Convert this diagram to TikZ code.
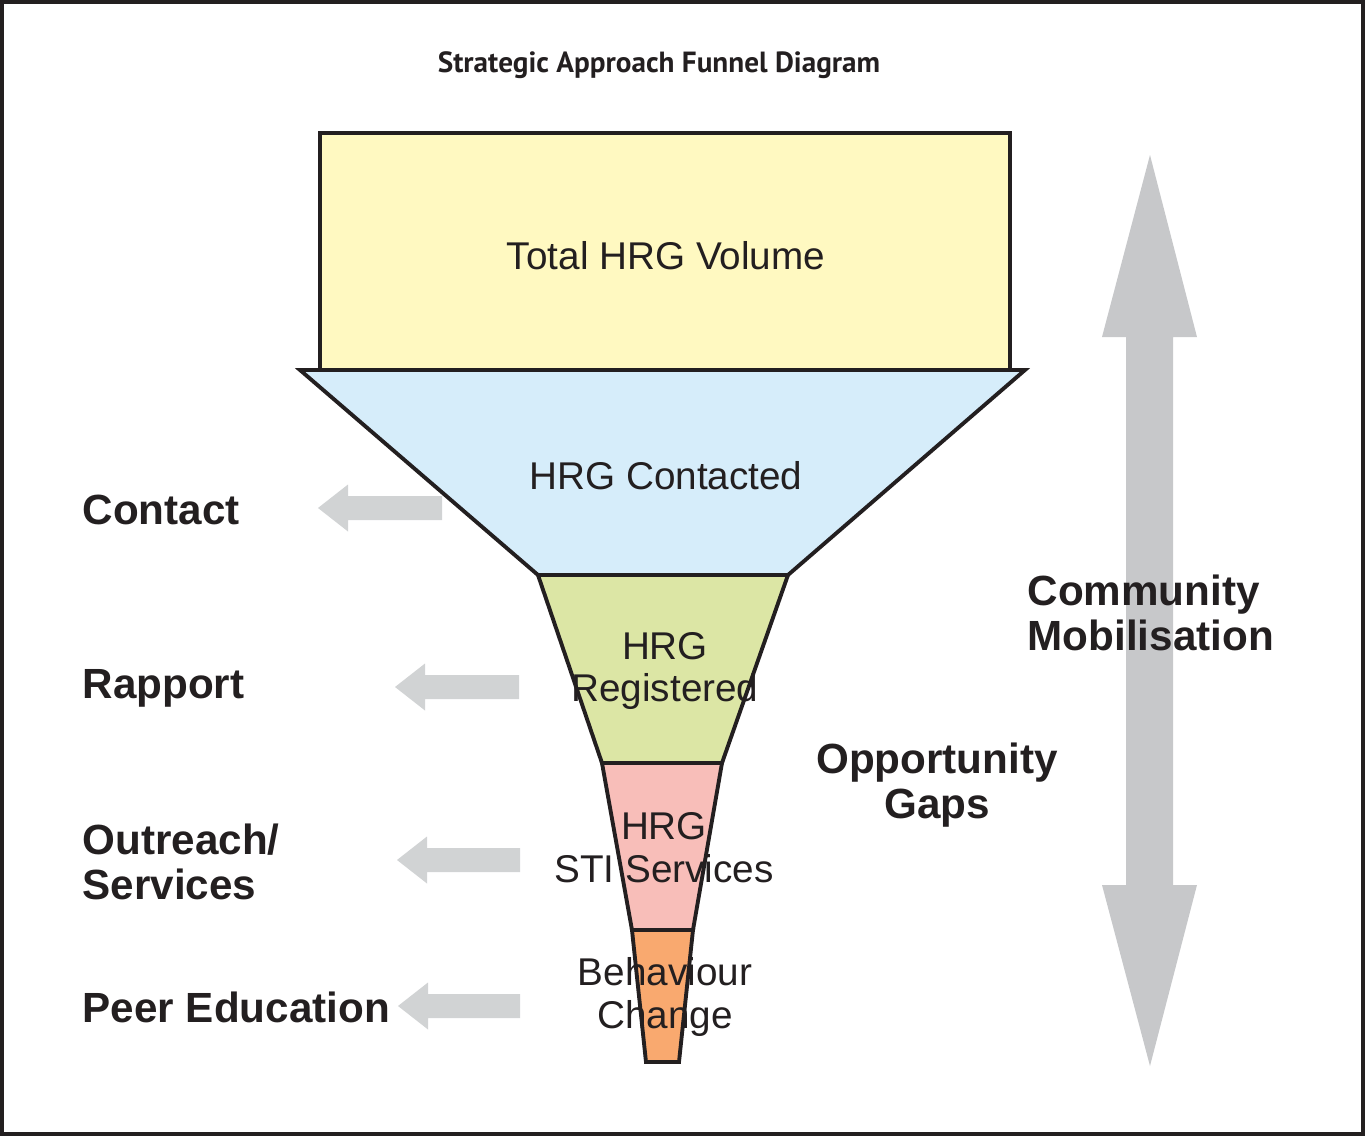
\documentclass[tikz,border=0pt]{standalone}
\usepackage{fontspec}
\setmainfont{Liberation Sans}
\newfontfamily\titlefont{PT Sans}

\definecolor{inkline}{HTML}{231F20}
\definecolor{volumefill}{HTML}{FFF9C1}
\definecolor{contactfill}{HTML}{D6EDFA}
\definecolor{registerfill}{HTML}{DCE6A5}
\definecolor{servicefill}{HTML}{F8BEB9}
\definecolor{changefill}{HTML}{F9A96F}
\definecolor{pointergray}{HTML}{D1D3D4}
\definecolor{mobilgray}{HTML}{C7C8CA}

\begin{document}
\begin{tikzpicture}[x=0.01cm, y=-0.01cm,
    stage/.style={draw=inkline, line width=1.1pt, line join=miter},
    stagetext/.style={font=\fontsize{11}{12.2}\selectfont, text=inkline, align=center, inner sep=0pt},
    sidelabel/.style={font=\bfseries\fontsize{12}{12.8}\selectfont, text=inkline, align=left, anchor=west, inner sep=0pt},
    pointer/.style={fill=pointergray}
]
    % Page frame
    \useasboundingbox (0,0) rectangle (1365,1136);
    \draw[inkline, line width=0.9pt] (2,2) rectangle (1363,1134);

    % Title
    \node[font=\titlefont\bfseries\fontsize{8.3}{9}\selectfont, text=inkline] (title) at (659,65) {Strategic Approach Funnel Diagram};

    % Funnel stages, top to bottom
    \draw[stage, fill=volumefill] (320,370) -- (320,133) -- (1010,133) -- (1010,370);
    \draw[stage, fill=contactfill] (300,370) -- (1025,370) -- (788,575) -- (538,575) -- cycle;
    \draw[stage, fill=registerfill] (538,575) -- (788,575) -- (722,763) -- (602,763) -- cycle;
    \draw[stage, fill=servicefill] (602,763) -- (722,763) -- (693,930) -- (632,930) -- cycle;
    \draw[stage, fill=changefill] (632,930) -- (693,930) -- (679,1062) -- (646,1062) -- cycle;

    \node[stagetext] (volume) at (666,256) {Total HRG Volume};
    \node[stagetext] (contacted) at (666,476) {HRG Contacted};
    \node[stagetext] (registered) at (665,671) {HRG\\Registered};
    \node[stagetext] (sti) at (664,848) {HRG\\STI Services};
    \node[stagetext] (behaviour) at (665,997) {Behaviour\\Change};

    % Pointers to the side labels
    \foreach \tip/\stop/\y in {318/442/508, 395/519/687, 397/520/860, 398/520/1006}
        \fill[pointer] (\tip,\y) -- (\tip+30,\y-23.5) -- (\tip+30,\y-12) -- (\stop,\y-12)
            -- (\stop,\y+12) -- (\tip+30,\y+12) -- (\tip+30,\y+23.5) -- cycle;

    \node[sidelabel] (contact) at (82,510) {Contact};
    \node[sidelabel] (rapport) at (82,688) {Rapport};
    \node[sidelabel] (outreach) at (82,862) {Outreach/\\Services};
    \node[sidelabel] (peer) at (82,1007) {Peer Education};

    % Community mobilisation double arrow
    \fill[mobilgray] (1150,155) -- (1197,337) -- (1173,337) -- (1173,885) -- (1197,885)
        -- (1150,1066) -- (1102,885) -- (1126,885) -- (1126,337) -- (1102,337) -- cycle;

    \node[sidelabel] (mobilisation) at (1027,613) {Community\\Mobilisation};
    \node[sidelabel, anchor=center, align=center] (gaps) at (937,785) {Opportunity\\Gaps};
\end{tikzpicture}
\end{document}
